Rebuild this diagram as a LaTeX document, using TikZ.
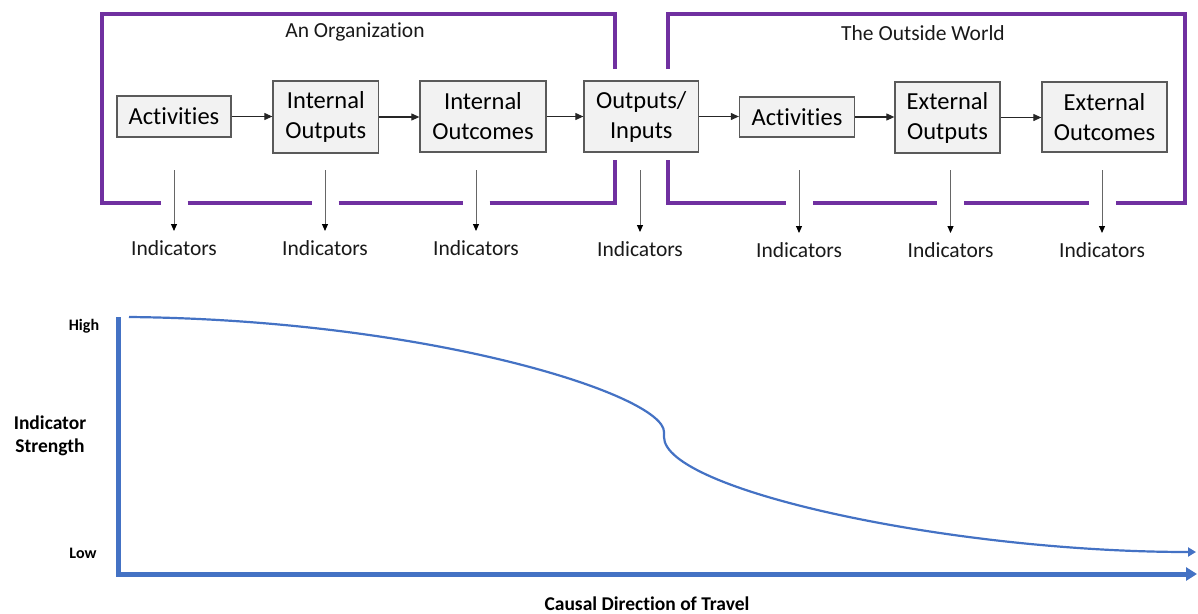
\documentclass[tikz,border=0pt]{standalone}
\usepackage{fontspec}
\setmainfont{Carlito}[Ligatures=NoCommon]
\usetikzlibrary{arrows.meta}
\definecolor{frame}{HTML}{7030A0}
\definecolor{axisblue}{HTML}{4472C4}
\definecolor{boxfill}{HTML}{F2F2F2}
\definecolor{boxline}{HTML}{5A5A5A}
\tikzset{
  stagebox/.style={draw=boxline, fill=boxfill, line width=1.3pt, align=center,
    inner sep=0pt, font=\fontsize{24.5}{30}\selectfont},
  flow/.style={draw=black!85, line width=1.1pt, -{Triangle[length=8pt,width=7pt]}},
  indarrow/.style={draw=black!60, line width=1pt, -{Triangle[length=7pt,width=6pt,color=black]}},
  indlabel/.style={font=\fontsize{21.5}{24}\selectfont, text=black!90, inner sep=0pt},
  titlelabel/.style={font=\fontsize{21.5}{24}\selectfont, text=black!90, inner sep=0pt},
  framepath/.style={draw=frame, line width=3.5pt, line join=miter, line cap=butt},
  axislabel/.style={font=\bfseries\fontsize{19.5}{23}\selectfont, inner sep=0pt, align=center},
  ticklabel/.style={font=\bfseries\fontsize{16}{19}\selectfont, inner sep=0pt},
}
\begin{document}
\begin{tikzpicture}[x=1pt, y=-1pt]
\useasboundingbox (0,0) rectangle (1198,613);

% ---- frames: the organization and the outside world ----
\draw[framepath] (615,69) -- (615,14) -- (102,14) -- (102,203) -- (160.5,203);
\draw[framepath] (187.5,203) -- (311.5,203);
\draw[framepath] (338.5,203) -- (462.5,203);
\draw[framepath] (489.5,203) -- (615,203) -- (615,160);

\draw[framepath] (668,69) -- (668,14) -- (1185,14) -- (1185,203) -- (1115.5,203);
\draw[framepath] (1088.5,203) -- (963.5,203);
\draw[framepath] (936.5,203) -- (812.5,203);
\draw[framepath] (785.5,203) -- (668,203) -- (668,160);

\node[titlelabel] (org) at (355,32) {An Organization};
\node[titlelabel] (world) at (923,33) {The Outside World};

% ---- stages ----
\node[stagebox, minimum width=114pt, minimum height=41pt] (a1) at (174,116.5) {Activities};
\node[stagebox, minimum width=105.6pt, minimum height=72pt] (io) at (325.8,117) {Internal\\Outputs};
\node[stagebox, minimum width=126pt, minimum height=71pt] (ic) at (483,116.5) {Internal\\Outcomes};
\node[stagebox, minimum width=114.6pt, minimum height=71pt] (oi) at (641.3,116.5) {Outputs/\\Inputs};
\node[stagebox, minimum width=115pt, minimum height=40pt] (a2) at (797,117) {Activities};
\node[stagebox, minimum width=105pt, minimum height=71pt] (eo) at (947.5,117.5) {External\\Outputs};
\node[stagebox, minimum width=125pt, minimum height=70pt] (ec) at (1104.5,117) {External\\Outcomes};

\draw[flow] (a1.east) -- (a1.east -| io.west);
\draw[flow] (io.east) -- (io.east -| ic.west);
\draw[flow] (ic.east) -- (ic.east -| oi.west);
\draw[flow] (oi.east) -- (oi.east -| a2.west);
\draw[flow] (a2.east) -- (a2.east -| eo.west);
\draw[flow] (eo.east) -- (eo.east -| ec.west);

% ---- indicators under each stage ----
\foreach \n/\x/\y in {1/174/248, 2/325/248, 3/476/248, 4/640/249, 5/799/250, 6/950.5/250, 7/1102/250}{
  \node[indlabel] (ind\n) at (\x,\y) {Indicators};
  \coordinate (src\n) at (\x,170);
  \coordinate (tip\n) at (\x,\y-17);
  \draw[indarrow] (src\n) -- (tip\n);
}

% ---- indicator strength chart ----
\draw[axisblue, line width=5pt, line join=miter, -{Triangle[length=11pt,width=13pt]}]
  (118,317) -- (118,574) -- (1197,574);
\draw[axisblue, line width=2.2pt, -{Triangle[length=8pt,width=9pt]}]
  (129,317) .. controls (430,320) and (664,395) .. (664,432)
  -- (664,437) .. controls (664,490) and (950,552) .. (1196,552);

\node[ticklabel] (high) at (84,326) {High};
\node[ticklabel] (low) at (83,553) {Low};
\node[axislabel] (strength) at (50,435.5) {Indicator\\Strength};
\node[axislabel] (travel) at (647,603.5) {Causal Direction of Travel};
\end{tikzpicture}
\end{document}
